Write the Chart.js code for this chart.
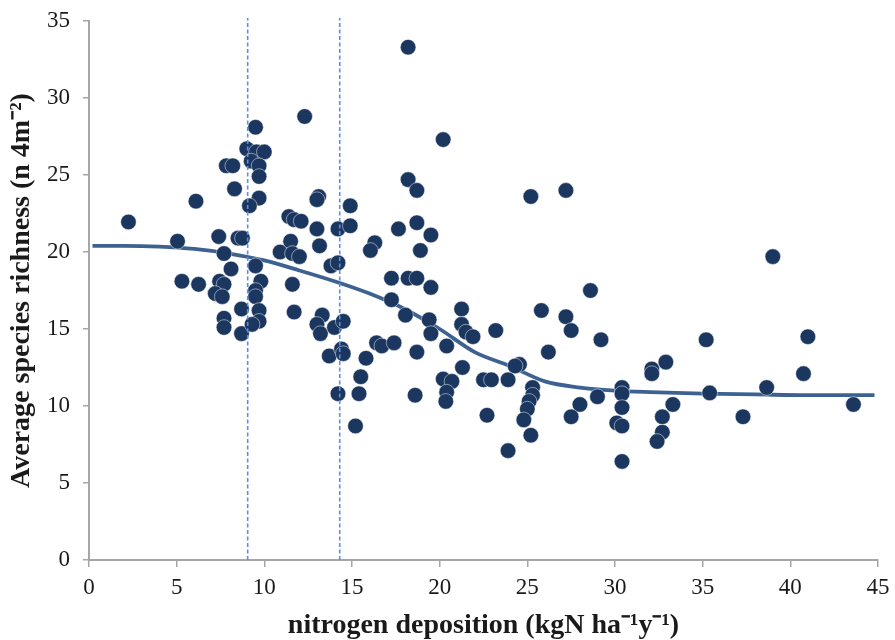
<!DOCTYPE html>
<html>
<head>
<meta charset="utf-8">
<script src="https://cdn.jsdelivr.net/npm/chart.js@4.4.1/dist/chart.umd.min.js"></script>
<style>
  html, body { margin: 0; padding: 0; background: #fff; }
  #wrap { width: 895px; height: 640px; }
</style>
</head>
<body>
<div id="wrap"><canvas id="chart" width="895" height="640"></canvas></div>
<script>
// plot points
var depX = [
	2.25, 5.05, 5.3, 6.1, 6.25, 7.4, 7.45, 7.7, 7.2, 7.6, 8.1, 7.7, 8.7, 7.7, 7.7, 8.7, 8.5, 8.75, 7.83, 8.2,
	8.3, 9.5, 9.0, 9.55, 10.0, 9.25, 9.7, 9.7, 9.7, 9.15, 9.5, 9.8, 9.5, 9.5, 9.7, 9.7, 9.3, 10.9,
	12.3, 18.2, 20.2, 18.2, 18.7, 13.1, 13.0, 14.9, 11.4, 11.7, 12.1, 13.0, 14.2, 14.9, 17.65, 18.7, 19.5,
	11.5, 13.15, 16.3, 16.05, 18.9, 11.6, 12.0, 13.8, 14.2, 11.6, 17.25, 18.2, 18.7, 19.5, 17.25, 11.7,
	13.3, 13.0, 13.2, 14.0, 14.5, 18.05, 19.4, 19.5, 21.25, 21.25, 21.5, 21.9, 20.4, 16.4, 16.7, 17.4,
	18.7, 13.7, 14.4, 14.5, 15.8, 15.5, 15.4, 14.2, 15.2, 18.6, 20.2, 20.7, 20.4, 20.35, 21.3, 22.5,
	25.2, 27.2, 28.6, 25.8, 27.2, 27.5, 29.2, 23.2, 26.2, 24.55, 24.3, 22.95, 23.9, 25.3, 25.3, 25.1,
	25.0, 24.8, 25.2, 22.7, 23.9, 28.0, 27.5, 29.0, 30.4, 30.4, 30.4, 30.1, 30.4, 30.4, 32.1, 32.1,
	32.9, 33.3, 32.7, 32.7, 32.4, 39.0, 35.2, 41.0, 40.75, 38.65, 35.4, 37.3, 43.6
];
var richness = [
	21.95, 20.7, 18.1, 23.3, 17.9, 21.0, 18.1, 17.9, 17.3, 17.1, 18.9, 19.9, 16.3, 15.7, 15.1, 14.7, 20.9, 20.9, 25.6, 25.6,
	24.1, 28.1, 26.7, 26.5, 26.5, 25.9, 25.6, 24.9, 23.5, 23.0, 19.1, 18.1, 17.5, 17.1, 16.2, 15.5, 15.3, 20.0,
	28.8, 33.3, 27.3, 24.7, 24.0, 23.6, 23.4, 23.0, 22.3, 22.1, 22.0, 21.5, 21.5, 21.7, 21.5, 21.9, 21.1,
	20.7, 20.4, 20.6, 20.1, 20.1, 19.9, 19.7, 19.1, 19.3, 17.9, 18.3, 18.3, 18.3, 17.7, 16.9, 16.1,
	15.9, 15.3, 14.7, 15.1, 15.5, 15.9, 15.6, 14.7, 16.3, 15.3, 14.8, 14.5, 13.9, 14.1, 13.9, 14.1,
	13.5, 13.25, 13.7, 13.4, 13.1, 11.9, 10.8, 10.8, 8.7, 10.7, 11.75, 11.6, 10.9, 10.3, 12.5, 11.7,
	23.6, 24.0, 17.5, 16.2, 15.8, 14.9, 14.3, 14.9, 13.5, 12.7, 12.6, 11.7, 11.7, 11.2, 10.7, 10.3,
	9.8, 9.1, 8.1, 9.4, 7.1, 10.1, 9.3, 10.6, 11.2, 10.8, 9.9, 8.9, 8.7, 6.4, 12.4, 12.1,
	12.85, 10.1, 9.3, 8.3, 7.7, 19.7, 14.3, 14.5, 12.1, 11.2, 10.85, 9.3, 10.1
];

// fitted curve
var fitX = [0.2, 2, 4, 6, 8, 10, 12, 14, 16, 18, 20, 22, 24, 26, 28, 30, 32, 35, 38, 41, 44.8];
var fitY = [20.4, 20.4, 20.35, 20.2, 19.9, 19.45, 18.8, 18.1, 17.3, 16.3, 15.0, 13.5, 12.6, 11.6, 11.2, 11.0, 10.9, 10.8, 10.75, 10.7, 10.7];

// dashed markers
var cutX = [9.05, 14.3];

var xTitle = "nitrogen deposition (kgN ha\u207B\u00B9y\u207B\u00B9)";
var yTitle = "Average species richness (n 4m\u207B\u00B2)";

var color = {
	dot: "#1B3760",
	fit: "#3D6292",
	cut: "#5B8FE3",
	axis: "#A6A6A6",
	text: "#1a1a1a"
};
var serif = "'Liberation Serif', 'Times New Roman', serif";

var points = depX.map(function (x, i) { return { x: x, y: richness[i] }; });
var fit = fitX.map(function (x, i) { return { x: x, y: fitY[i] }; });

var datasets = [];
cutX.forEach(function (x) {
	datasets.push({
		type: "line",
		data: [{ x: x, y: 0 }, { x: x, y: 35.2 }],
		borderColor: color.cut,
		borderWidth: 1.6,
		borderDash: [4, 2.5],
		pointRadius: 0,
		clip: false,
		order: 0
	});
});
datasets.push({
	type: "scatter",
	data: points,
	backgroundColor: color.dot,
	borderColor: "rgba(255,255,255,0.6)",
	borderWidth: 0.8,
	pointRadius: 7.8,
	order: 1
});
datasets.push({
	type: "line",
	data: fit,
	borderColor: color.fit,
	borderWidth: 3.8,
	pointRadius: 0,
	tension: 0.4,
	cubicInterpolationMode: "monotone",
	order: 2
});

new Chart(document.getElementById("chart").getContext("2d"), {
	type: "scatter",
	data: { datasets: datasets },
	options: {
		responsive: false,
		animation: false,
		layout: { padding: { left: 0, right: 17, top: 21, bottom: 0 } },
		plugins: { legend: { display: false }, tooltip: { enabled: false } },
		scales: {
			x: {
				type: "linear",
				min: 0,
				max: 45,
				afterFit: function (scale) {
					scale.height = 80;
					scale.paddingLeft = 0;
					scale.paddingRight = 0;
				},
				ticks: { stepSize: 5, color: color.text, font: { family: serif, size: 23 }, padding: 7, maxRotation: 0 },
				grid: { drawOnChartArea: false, drawTicks: true, tickLength: 7, color: color.axis, lineWidth: 1.5 },
				border: { color: color.axis, width: 2 },
				title: {
					display: true,
					text: xTitle,
					color: color.text,
					font: { family: serif, size: 28, weight: "bold", lineHeight: 1 },
					padding: { top: 0, bottom: 0 }
				}
			},
			y: {
				min: 0,
				max: 35,
				afterFit: function (scale) {
					scale.width = 89;
					scale.paddingTop = 0;
					scale.paddingBottom = 0;
				},
				ticks: { stepSize: 5, color: color.text, font: { family: serif, size: 23 }, padding: 13 },
				grid: { drawOnChartArea: false, drawTicks: true, tickLength: 6, color: color.axis, lineWidth: 1.5 },
				border: { color: color.axis, width: 2 },
				title: {
					display: true,
					text: yTitle,
					color: color.text,
					font: { family: serif, size: 28, weight: "bold", lineHeight: 1 },
					padding: { top: 8, bottom: 0 }
				}
			}
		}
	}
});
</script>
</body>
</html>
